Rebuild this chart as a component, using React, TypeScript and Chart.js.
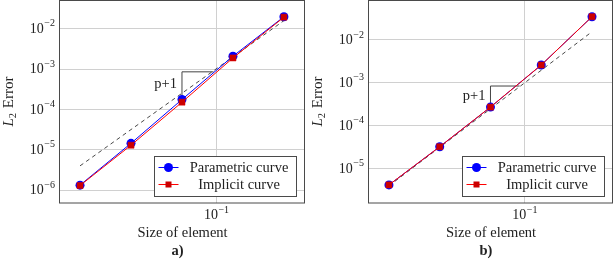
import React, { useEffect, useRef } from "react";
import { Chart, registerables } from "chart.js";

Chart.register(...registerables);

// ---- data ----
const elementSizes = [1 / 64, 1 / 32, 1 / 16, 1 / 8, 1 / 4];

const parametricErrorA = [1.33e-6, 1.45e-5, 1.77e-4, 2.1e-3, 2.0e-2];
const implicitErrorA = [1.3e-6, 1.3e-5, 1.52e-4, 1.9e-3, 1.95e-2];
const referenceSizes = [1 / 64, 1 / 4];
const referenceErrorA = [4.0e-6, 1.6e-2];
const triangleSizesA = [1 / 16, 1 / 16, 0.096];
const triangleErrorA = [2.2e-4, 8.6e-4, 8.6e-4];

const parametricErrorB = [4.1e-6, 3.2e-5, 2.7e-4, 2.6e-3, 3.5e-2];
const implicitErrorB = [4.1e-6, 3.2e-5, 2.7e-4, 2.6e-3, 3.5e-2];
const referenceErrorB = [3.9e-6, 1.56e-2];
const triangleSizesB = [1 / 16, 1 / 16, 0.093];
const triangleErrorB = [2.7e-4, 8.4e-4, 8.4e-4];

const xTickValues = [0.1];
const xTickExponents = ["−1"];
const yTickValuesA = [1e-6, 1e-5, 1e-4, 1e-3, 1e-2];
const yTickExponentsA = ["−6", "−5", "−4", "−3", "−2"];
const yTickValuesB = [1e-5, 1e-4, 1e-3, 1e-2];
const yTickExponentsB = ["−5", "−4", "−3", "−2"];

const seriesNames = ["Parametric curve", "Implicit curve"];
const xTitle = "Size of element";
const slopeLabel = "p+1";

const FONT = '"Liberation Serif", "DejaVu Serif", serif';
const FRAME = "#4a4a4a";

type PanelSpec = {
  param: number[];
  impl: number[];
  ref: number[];
  triX: number[];
  triY: number[];
  yTicks: number[];
  yExps: string[];
  yMin: number;
  yMax: number;
  tag: string;
  axisWidth: number;
  padRight: number;
};

function pts(xs: number[], ys: number[]) {
  return xs.map((x, i) => ({ x, y: ys[i] }));
}

function drawPow(ctx: CanvasRenderingContext2D, x: number, y: number, exp: string, align: "right" | "center") {
  const big = `14px ${FONT}`;
  const small = `10px ${FONT}`;
  ctx.font = big;
  const wb = ctx.measureText("10").width;
  ctx.font = small;
  const we = ctx.measureText(exp).width;
  const total = wb + we + 0.5;
  const x0 = align === "right" ? x - total : x - total / 2;
  ctx.textAlign = "left";
  ctx.textBaseline = "middle";
  ctx.fillStyle = "#222";
  ctx.font = big;
  ctx.fillText("10", x0, y + 0.5);
  ctx.font = small;
  ctx.fillText(exp, x0 + wb + 0.5, y - 5);
}

function Panel({ spec }: { spec: PanelSpec }) {
  const ref = useRef<HTMLCanvasElement | null>(null);
  useEffect(() => {
    if (!ref.current) return;
    const overlay = {
      id: "overlay",
      afterDraw(chart: any) {
        const ctx: CanvasRenderingContext2D = chart.ctx;
        const a = chart.chartArea;
        const xs = chart.scales.x;
        const ys = chart.scales.y;
        ctx.save();
        // frame
        ctx.strokeStyle = FRAME;
        ctx.lineWidth = 1;
        ctx.strokeRect(Math.round(a.left) - 0.5, Math.round(a.top) + 0.5, Math.round(a.right - a.left), Math.round(a.bottom - a.top) - 0.5);
        // y ticks
        spec.yTicks.forEach((v, i) => drawPow(ctx, a.left - 5, ys.getPixelForValue(v), spec.yExps[i], "right"));
        // x ticks
        xTickValues.forEach((v, i) => drawPow(ctx, xs.getPixelForValue(v), a.bottom + 12, xTickExponents[i], "center"));
        // slope label
        const tx = xs.getPixelForValue(spec.triX[0]);
        const tyMid = (ys.getPixelForValue(spec.triY[0]) + ys.getPixelForValue(spec.triY[1])) / 2;
        ctx.fillStyle = "#222";
        ctx.font = `14.5px ${FONT}`;
        ctx.textAlign = "right";
        ctx.textBaseline = "middle";
        ctx.fillText(slopeLabel, tx - 5, tyMid);
        // x title
        const cx = (a.left + a.right) / 2;
        ctx.textAlign = "center";
        ctx.fillText(xTitle, cx, 233);
        ctx.font = `bold 14.5px ${FONT}`;
        ctx.fillText(spec.tag, cx - 5, 251.5);
        // y title
        ctx.save();
        ctx.translate(a.left - 51, (a.top + a.bottom) / 2);
        ctx.rotate(-Math.PI / 2);
        ctx.font = `italic 15px ${FONT}`;
        const wL = ctx.measureText("L").width;
        ctx.font = `10.5px ${FONT}`;
        const w2 = ctx.measureText("2").width;
        ctx.font = `15px ${FONT}`;
        const wE = ctx.measureText(" Error").width;
        const tot = wL + w2 + 1 + wE;
        const x0 = -tot / 2;
        ctx.textAlign = "left";
        ctx.textBaseline = "middle";
        ctx.font = `italic 15px ${FONT}`;
        ctx.fillText("L", x0, 0);
        ctx.font = `10.5px ${FONT}`;
        ctx.fillText("2", x0 + wL, 4);
        ctx.font = `15px ${FONT}`;
        ctx.fillText(" Error", x0 + wL + w2 + 1, 0);
        ctx.restore();
        // legend
        const bw = 142, bh = 40;
        const bx = Math.round(a.right - 9 - bw) + 0.5;
        const by = Math.round(a.bottom - 7 - bh) + 0.5;
        ctx.fillStyle = "#fff";
        ctx.fillRect(bx, by, bw, bh);
        ctx.strokeStyle = FRAME;
        ctx.lineWidth = 1;
        ctx.strokeRect(bx, by, bw, bh);
        const rows = [by + 11, by + 28];
        const colors = ["#0000ff", "#ff0000"];
        rows.forEach((ry, i) => {
          ctx.strokeStyle = colors[i];
          ctx.lineWidth = 1;
          ctx.beginPath();
          ctx.moveTo(bx + 4, ry);
          ctx.lineTo(bx + 24, ry);
          ctx.stroke();
          if (i === 0) {
            ctx.fillStyle = "#0000ff";
            ctx.beginPath();
            ctx.arc(bx + 14, ry, 4.5, 0, Math.PI * 2);
            ctx.fill();
          } else {
            ctx.fillStyle = "#cc0000";
            ctx.fillRect(bx + 11, ry - 3, 6, 6);
          }
          ctx.fillStyle = "#222";
          ctx.font = `14.5px ${FONT}`;
          ctx.textAlign = "center";
          ctx.textBaseline = "middle";
          ctx.fillText(seriesNames[i], bx + 84.5, ry + 0.5);
        });
        ctx.restore();
      },
    };

    const chart = new Chart(ref.current, {
      type: "line",
      data: {
        datasets: [
          {
            label: seriesNames[1],
            data: pts(elementSizes, spec.impl),
            borderColor: "#ff0000",
            backgroundColor: "#cc0000",
            pointBackgroundColor: "#cc0000",
            pointBorderColor: "#dd0000",
            pointStyle: "rect",
            pointRadius: 4.3,
            borderWidth: 1,
            pointBorderWidth: 0.5,
          },
          {
            label: seriesNames[0],
            data: pts(elementSizes, spec.param),
            borderColor: "#0000ff",
            backgroundColor: "#0000ff",
            pointBackgroundColor: "#0000ff",
            pointBorderColor: "#0000ff",
            pointStyle: "circle",
            pointRadius: 4.5,
            borderWidth: 1,
            pointBorderWidth: 0,
          },
          {
            label: "reference",
            data: pts(referenceSizes, spec.ref),
            borderColor: "#333",
            borderWidth: 0.9,
            borderDash: [4, 3.5],
            pointRadius: 0,
          },
          {
            label: "triangle",
            data: pts(spec.triX, spec.triY),
            borderColor: "#444",
            borderWidth: 1,
            pointRadius: 0,
          },
        ],
      },
      options: {
        animation: false,
        responsive: false,
        events: [],
        layout: { autoPadding: false, padding: { left: 0, right: spec.padRight, top: 0, bottom: 0 } },
        plugins: { legend: { display: false }, tooltip: { enabled: false }, title: { display: false } },
        scales: {
          x: {
            type: "logarithmic",
            min: 0.0119,
            max: 0.333,
            ticks: { display: false },
            border: { display: false },
            grid: { color: "#d0d0d0", lineWidth: 1, drawTicks: false },
            afterBuildTicks: (s: any) => {
              s.ticks = xTickValues.map((v) => ({ value: v }));
            },
            afterFit: (s: any) => {
              s.height = 61;
            },
          },
          y: {
            type: "logarithmic",
            min: spec.yMin,
            max: spec.yMax,
            ticks: { display: false },
            border: { display: false },
            grid: { color: "#d0d0d0", lineWidth: 1, drawTicks: false },
            afterBuildTicks: (s: any) => {
              s.ticks = spec.yTicks.map((v) => ({ value: v }));
            },
            afterFit: (s: any) => {
              s.width = spec.axisWidth;
            },
          },
        },
      },
      plugins: [overlay],
    } as any);
    return () => chart.destroy();
  }, [spec]);
  return <canvas ref={ref} width={307} height={264} style={{ display: "block", width: 307, height: 264 }} />;
}

const specA: PanelSpec = {
  param: parametricErrorA,
  impl: implicitErrorA,
  ref: referenceErrorA,
  triX: triangleSizesA,
  triY: triangleErrorA,
  yTicks: yTickValuesA,
  yExps: yTickExponentsA,
  yMin: 4.8e-7,
  yMax: 5.2e-2,
  tag: "a)",
  axisWidth: 60,
  padRight: 2,
};

const specB: PanelSpec = {
  param: parametricErrorB,
  impl: implicitErrorB,
  ref: referenceErrorB,
  triX: triangleSizesB,
  triY: triangleErrorB,
  yTicks: yTickValuesB,
  yExps: yTickExponentsB,
  yMin: 1.55e-6,
  yMax: 8.6e-2,
  tag: "b)",
  axisWidth: 62,
  padRight: 1,
};

export default function App() {
  return (
    <div style={{ position: "absolute", left: 0, top: 0, width: 614, height: 264, display: "flex", background: "#fff" }}>
      <Panel spec={specA} />
      <Panel spec={specB} />
    </div>
  );
}
